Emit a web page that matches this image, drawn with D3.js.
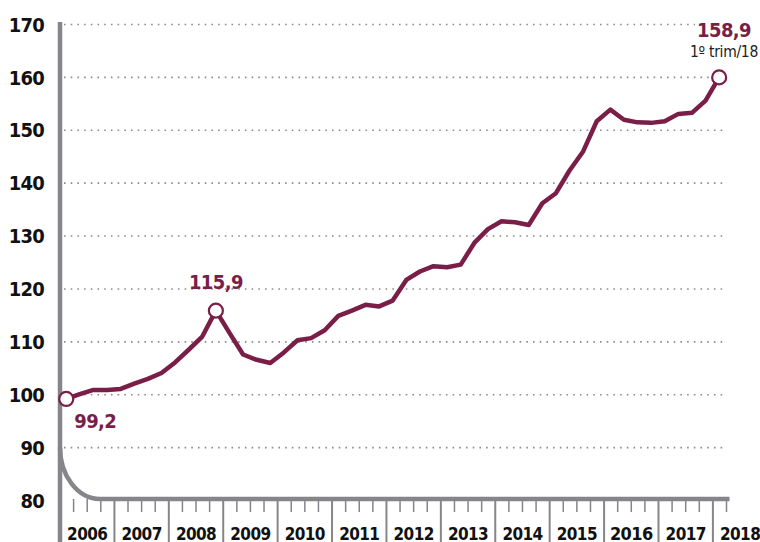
<!DOCTYPE html>
<html>
<head>
<meta charset="utf-8">
<script src="https://cdn.jsdelivr.net/npm/d3@7"></script>
<style>
  body { margin: 0; background: #fff; }
  svg { display: block; font-family: "DejaVu Sans Condensed", "Liberation Sans Narrow", sans-serif; }
</style>
</head>
<body>
<svg id="chart" width="760" height="542"></svg>
<script>
// quarterly index, 2006 Q1 .. 2018 Q1
const startYear = 2006;
const values = [99.2, 100.1, 100.9, 100.9, 101.1, 102.1, 103.0, 104.1, 106.1, 108.5, 111.0, 115.9,
  111.7, 107.6, 106.6, 106.0, 108.0, 110.3, 110.7, 112.2, 114.9, 115.9, 117.0, 116.7,
  117.8, 121.7, 123.3, 124.3, 124.1, 124.6, 128.7, 131.3, 132.8, 132.6, 132.1, 136.2,
  138.1, 142.4, 146.0, 151.7, 153.9, 152.0, 151.5, 151.4, 151.7, 153.1, 153.3, 155.6, 160.0];
const yearLabels = ["2006","2007","2008","2009","2010","2011","2012","2013","2014","2015","2016","2017","2018"];
const yTicks = [80, 90, 100, 110, 120, 130, 140, 150, 160, 170];
const highlights = [
  { i: 0, label: "99,2" },
  { i: 11, label: "115,9" },
  { i: 48, label: "158,9", sub: "1º trim/18" }
];

const maroon = "#7a1e48", axisGray = "#86868a", gridGray = "#8c8c8c";

const svg = d3.select("#chart");
const x = d3.scaleLinear().domain([2006, 2018.25]).range([60, 726.5]);
const y = d3.scaleLinear().domain([80, 170]).range([500.5, 24.5]);
const xq = i => x(startYear + i / 4 + 0.115);

// dotted grid
svg.append("g").selectAll("line")
  .data(yTicks.filter(d => d > 80)).enter().append("line")
    .attr("x1", 64).attr("x2", 725)
    .attr("y1", d => y(d)).attr("y2", d => y(d))
    .attr("stroke", gridGray).attr("stroke-width", 1.6)
    .attr("stroke-dasharray", "1.6 5.1");

// y labels
svg.append("g").selectAll("text")
  .data(yTicks).enter().append("text")
    .attr("x", 44).attr("y", d => y(d)).attr("dy", "0.36em")
    .attr("text-anchor", "end")
    .attr("font-size", 20).attr("font-weight", "bold").attr("fill", "#111")
    .attr("letter-spacing", -0.8)
    .text(d => d);

// axes: left bar, rounded corner, baseline
const baseY = y(80) - 1.5;
const ax = svg.append("g").attr("stroke", axisGray).attr("fill", "none");
ax.append("line").attr("x1", 60).attr("x2", 60).attr("y1", 22).attr("y2", 542).attr("stroke-width", 4.5);
ax.append("path")
  .attr("d", `M60,${y(90)} A40,${baseY - y(90)} 0 0 0 100,${baseY} L${x(2018.25) + 3},${baseY}`)
  .attr("stroke-width", 4.5);

// quarter ticks and year separators
const qTicks = d3.range(1, 50).map(q => startYear + q / 4).filter(v => v <= 2018.25);
ax.selectAll("line.t")
  .data(qTicks).enter().append("line")
    .attr("class", "t")
    .attr("x1", d => x(d)).attr("x2", d => x(d))
    .attr("y1", baseY)
    .attr("y2", d => Number.isInteger(d) ? 542 : baseY + 13)
    .attr("stroke-width", d => Number.isInteger(d) ? 2 : 1.5);

// year labels
svg.append("g").selectAll("text")
  .data(yearLabels).enter().append("text")
    .attr("x", d => x(+d + 0.5)).attr("y", 539.5)
    .attr("text-anchor", "middle")
    .attr("font-size", d => d === "2016" ? 18 : 17).attr("font-weight", "bold").attr("fill", "#111")
    .attr("letter-spacing", -0.6)
    .text(d => d);

// line
svg.append("path")
  .datum(values)
  .attr("d", d3.line().x((d, i) => xq(i)).y(d => y(d)))
  .attr("fill", "none").attr("stroke", maroon).attr("stroke-width", 4.5)
  .attr("stroke-linejoin", "round").attr("stroke-linecap", "round");

// highlighted points
svg.append("g").selectAll("circle")
  .data(highlights).enter().append("circle")
    .attr("cx", d => xq(d.i)).attr("cy", d => y(values[d.i]))
    .attr("r", 7)
    .attr("fill", "#fff").attr("stroke", maroon).attr("stroke-width", 2.2);

// labels
const h0 = highlights[0], h1 = highlights[1], h2 = highlights[2];
svg.append("text")
  .attr("x", xq(h0.i) + 8).attr("y", y(values[h0.i]) + 29)
  .attr("font-size", 20).attr("font-weight", "bold").attr("fill", maroon)
  .attr("letter-spacing", -0.6)
  .text(h0.label);
svg.append("text")
  .attr("x", xq(h1.i)).attr("y", y(values[h1.i]) - 22)
  .attr("text-anchor", "middle")
  .attr("font-size", 20).attr("font-weight", "bold").attr("fill", maroon)
  .attr("letter-spacing", -0.6)
  .text(h1.label);

const lastG = svg.append("g");
const bg = lastG.append("rect").attr("fill", "#fff");
const t1 = lastG.append("text")
  .attr("x", 751).attr("y", 37)
  .attr("text-anchor", "end")
  .attr("font-size", 20).attr("font-weight", "bold").attr("fill", maroon)
  .attr("letter-spacing", -0.6)
  .text(h2.label);
lastG.append("text")
  .attr("x", 758).attr("y", 57)
  .attr("text-anchor", "end")
  .attr("font-size", 15.5).attr("fill", "#222")
  .attr("letter-spacing", -0.3)
  .text(h2.sub);
const bb = t1.node().getBBox();
bg.attr("x", bb.x - 2).attr("y", bb.y).attr("width", bb.width + 4).attr("height", bb.height);
</script>
</body>
</html>
